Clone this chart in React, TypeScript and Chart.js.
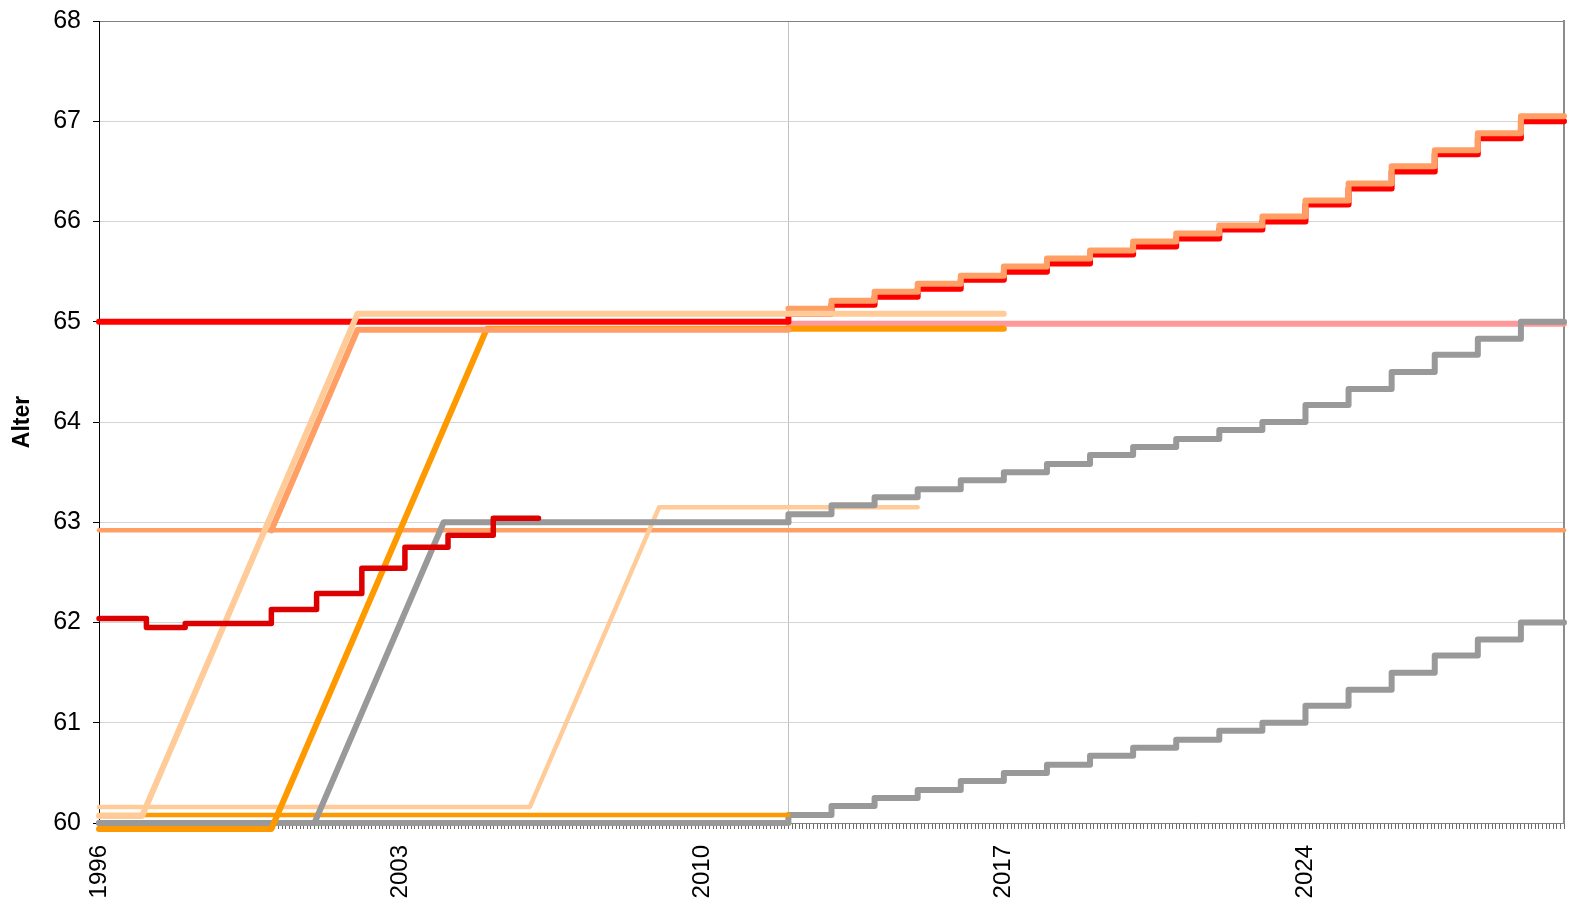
import React, { useEffect, useRef } from 'react';
import { Chart, registerables } from 'chart.js';

Chart.register(...registerables);

const X_START = 1996;
const X_END = 2030;
const tickYears = [1996, 2003, 2010, 2017, 2024];
const FONT = 'Arial, "Liberation Sans", sans-serif';

// Series data (x in years, y = Alter)
const redYears = [1996, 2012, 2013, 2014, 2015, 2016, 2017, 2018, 2019, 2020, 2021, 2022, 2023, 2024, 2025, 2026, 2027, 2028, 2029, 2030];
const redValues = [65, 65.08, 65.17, 65.25, 65.33, 65.42, 65.5, 65.58, 65.67, 65.75, 65.83, 65.92, 66.0, 66.17, 66.33, 66.5, 66.67, 66.83, 67.0, 67.0];

const salmonStairYears = [2012, 2013, 2014, 2015, 2016, 2017, 2018, 2019, 2020, 2021, 2022, 2023, 2024, 2025, 2026, 2027, 2028, 2029, 2030];
const salmonStairValues = [65.13, 65.21, 65.3, 65.38, 65.46, 65.55, 65.63, 65.71, 65.8, 65.88, 65.96, 66.05, 66.21, 66.38, 66.55, 66.71, 66.88, 67.05, 67.05];

const grayUpperRampYears = [1996, 2001, 2004, 2012];
const grayUpperRampValues = [60, 60, 63, 63];
const grayUpperStairYears = [2012, 2012, 2013, 2014, 2015, 2016, 2017, 2018, 2019, 2020, 2021, 2022, 2023, 2024, 2025, 2026, 2027, 2028, 2029, 2030];
const grayUpperStairValues = [63.0, 63.08, 63.17, 63.25, 63.33, 63.42, 63.5, 63.58, 63.67, 63.75, 63.83, 63.92, 64.0, 64.17, 64.33, 64.5, 64.67, 64.83, 65.0, 65.0];

const grayLowerYears = [1996, 2012, 2013, 2014, 2015, 2016, 2017, 2018, 2019, 2020, 2021, 2022, 2023, 2024, 2025, 2026, 2027, 2028, 2029, 2030];
const grayLowerValues = [60, 60.08, 60.17, 60.25, 60.33, 60.42, 60.5, 60.58, 60.67, 60.75, 60.83, 60.92, 61.0, 61.17, 61.33, 61.5, 61.67, 61.83, 62.0, 62.0];

const pinkYears = [2012, 2030];
const pinkValues = [64.98, 64.98];

const peachThickYears = [1996, 1997, 2002, 2017];
const peachThickValues = [60.07, 60.07, 65.08, 65.08];

const salmonRiseYears = [2000, 2002, 2012];
const salmonRiseValues = [62.92, 64.92, 64.92];

const orangeThickYears = [1996, 2000, 2005, 2017];
const orangeThickValues = [59.94, 59.94, 64.93, 64.93];

const peachThinYears = [1996, 2006, 2009, 2015];
const peachThinValues = [60.16, 60.16, 63.15, 63.15];

const orangeThinYears = [1996, 2012];
const orangeThinValues = [60.08, 60.08];

const salmonFlatYears = [1996, 2030];
const salmonFlatValues = [62.92, 62.92];

const darkRedYears = [1996, 1997.1, 1998, 2000, 2001.05, 2002.1, 2003.1, 2004.1, 2005.15, 2006.2];
const darkRedValues = [62.04, 61.95, 61.99, 62.13, 62.29, 62.54, 62.75, 62.87, 63.04, 63.04];

const toPoints = (years: number[], values: number[]) =>
  years.map((yr, i) => ({ x: (yr - X_START) * 12, y: values[i] }));

const line = (years: number[], values: number[], color: string, width: number, stepped: boolean) => ({
  data: toPoints(years, values),
  borderColor: color,
  backgroundColor: color,
  borderWidth: width,
  pointRadius: 0,
  pointHoverRadius: 0,
  fill: false,
  tension: 0,
  stepped: stepped ? 'before' : false,
  borderCapStyle: 'round',
  borderJoinStyle: 'round',
  clip: false,
});

export default function App() {
  const ref = useRef<HTMLCanvasElement>(null);

  useEffect(() => {
    if (!ref.current) return;
    const datasets: any[] = [
      line(darkRedYears, darkRedValues, '#dd0000', 5.5, true),
      line(peachThickYears, peachThickValues, '#ffcc99', 6, false),
      line(salmonRiseYears, salmonRiseValues, '#ff9f66', 6, false),
      line(orangeThickYears, orangeThickValues, '#ff9900', 6, false),
      line(grayUpperRampYears, grayUpperRampValues, '#999999', 6, false),
      line(grayUpperStairYears, grayUpperStairValues, '#999999', 6, true),
      line(salmonStairYears, salmonStairValues, '#ff9f66', 6, true),
      line(redYears, redValues, '#ff0000', 6, true),
      line(pinkYears, pinkValues, '#ff9999', 6, false),
      line(peachThinYears, peachThinValues, '#ffcc99', 4.5, false),
      line(orangeThinYears, orangeThinValues, '#ff9900', 4.5, false),
      line(grayLowerYears, grayLowerValues, '#999999', 6, true),
      line(salmonFlatYears, salmonFlatValues, '#ff9f66', 4.5, false),
    ];
    const totalMonths = (X_END - X_START) * 12;
    const chart = new Chart(ref.current, {
      type: 'line',
      data: { datasets },
      options: {
        animation: false,
        responsive: false,
        devicePixelRatio: 1,
        layout: { padding: { top: 21, right: 8, left: 0, bottom: 0 } },
        plugins: { legend: { display: false }, tooltip: { enabled: false } },
        scales: {
          x: {
            type: 'linear',
            min: 0,
            max: totalMonths,
            afterFit: (s: any) => {
              s.height = 88;
              s.paddingLeft = 0;
              s.paddingRight = 0;
            },
            border: { display: true, color: '#808080', width: 1 },
            grid: {
              drawOnChartArea: true,
              drawTicks: true,
              tickLength: 6,
              lineWidth: 1,
              color: (c: any) => {
                const v = c.tick ? c.tick.value : -1;
                if (v === (2012 - X_START) * 12) return '#c0c0c0';
                return 'rgba(0,0,0,0)';
              },
              tickColor: '#6a6a6a',
            },
            ticks: {
              stepSize: 1,
              autoSkip: false,
              maxRotation: 90,
              minRotation: 90,
              padding: 16,
              color: '#000',
              font: { family: FONT, size: 24 },
              callback: (v: any) => {
                const yr = X_START + Number(v) / 12;
                return tickYears.includes(yr) ? String(yr) : '';
              },
            },
          },
          y: {
            type: 'linear',
            min: 60,
            max: 68,
            afterFit: (s: any) => {
              s.width = 99;
              s.paddingTop = 0;
              s.paddingBottom = 0;
            },
            border: { display: true, color: '#000', width: 1 },
            grid: {
              color: (c: any) => (c.tick && c.tick.value === 68 ? '#808080' : '#d4d4d4'),
              tickColor: '#000',
              tickLength: 6,
              lineWidth: 1,
            },
            ticks: { stepSize: 1, padding: 12, color: '#000', font: { family: FONT, size: 25 } },
            title: {
              display: true,
              text: 'Alter',
              color: '#000',
              font: { family: FONT, size: 23, weight: 'bold' },
              padding: { top: 9, bottom: 0 },
            },
          },
          yRight: {
            type: 'linear',
            position: 'right',
            min: 60,
            max: 68,
            display: true,
            afterFit: (s: any) => {
              s.width = 0;
              s.paddingTop = 0;
              s.paddingBottom = 0;
            },
            border: { display: true, color: '#8c8c8c', width: 2 },
            grid: { drawOnChartArea: false, drawTicks: false },
            ticks: { display: false },
          },
        },
      },
    } as any);
    return () => chart.destroy();
  }, []);

  return (
    <div style={{ position: 'fixed', left: 0, top: 0, width: 1572, height: 911, background: '#fff' }}>
      <canvas ref={ref} width={1572} height={911} style={{ display: 'block' }} />
    </div>
  );
}
